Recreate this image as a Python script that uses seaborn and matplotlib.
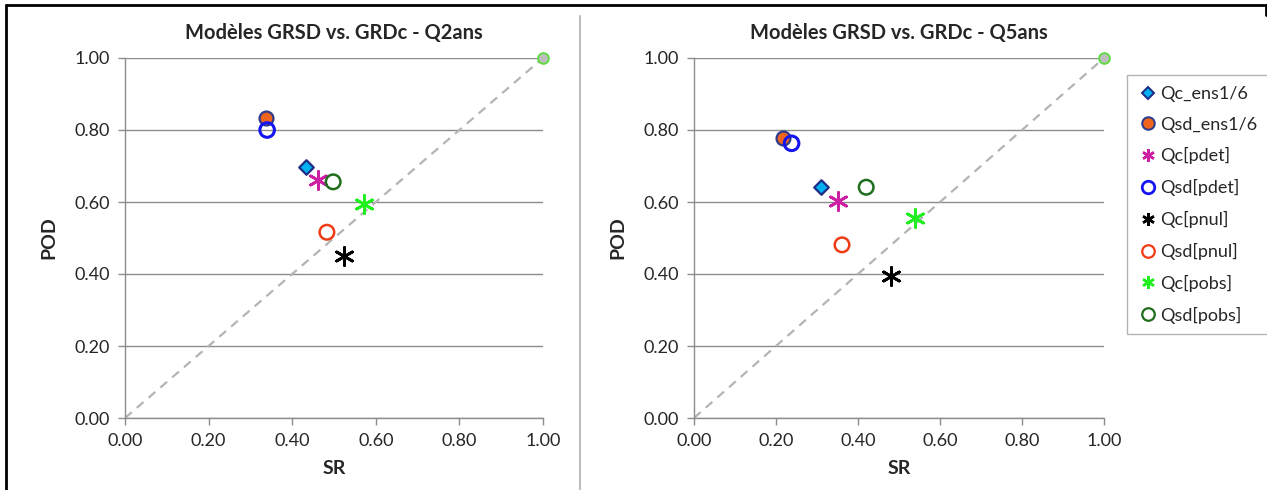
import numpy as np
import pandas as pd
import matplotlib
matplotlib.use('Agg')
import matplotlib.pyplot as plt
import seaborn as sns
from matplotlib.lines import Line2D

sns.set_theme(style='white')
plt.rcParams['font.family'] = ['Lato', 'DejaVu Sans']

# --- data ---
series = ['Qc_ens1/6', 'Qsd_ens1/6', 'Qc[pdet]', 'Qsd[pdet]',
          'Qc[pnul]', 'Qsd[pnul]', 'Qc[pobs]', 'Qsd[pobs]']
sr_q2 = [0.433, 0.337, 0.461, 0.340, 0.523, 0.483, 0.571, 0.498]
pod_q2 = [0.697, 0.832, 0.661, 0.800, 0.450, 0.516, 0.595, 0.656]
sr_q5 = [0.310, 0.218, 0.350, 0.238, 0.480, 0.361, 0.539, 0.420]
pod_q5 = [0.642, 0.777, 0.604, 0.763, 0.394, 0.481, 0.555, 0.641]
titles = ['Modèles GRSD vs. GRDc - Q2ans', 'Modèles GRSD vs. GRDc - Q5ans']
ticks = [0.0, 0.2, 0.4, 0.6, 0.8, 1.0]
diag = [0.0, 1.0]

asterisk = (6, 2, 0)
styles = {
    'Qc_ens1/6':  dict(marker='D', s=55, color='#00B0F0', edgecolor='#1F2D86', linewidth=1.6),
    'Qsd_ens1/6': dict(marker='o', s=100, color='#F0641E', edgecolor='#2E3C8C', linewidth=1.6),
    'Qc[pdet]':   dict(marker=asterisk, s=170, color='#CC1FA3', edgecolor='#CC1FA3', linewidth=2.0),
    'Qsd[pdet]':  dict(marker='o', s=110, color='none', edgecolor='#1414F0', linewidth=2.2),
    'Qc[pnul]':   dict(marker=asterisk, s=170, color='black', edgecolor='black', linewidth=2.0),
    'Qsd[pnul]':  dict(marker='o', s=110, color='none', edgecolor='#F03C14', linewidth=1.8),
    'Qc[pobs]':   dict(marker=asterisk, s=170, color='#20F020', edgecolor='#20F020', linewidth=2.0),
    'Qsd[pobs]':  dict(marker='o', s=110, color='none', edgecolor='#1E6E1E', linewidth=1.8),
}

fig = plt.figure(figsize=(12.67, 4.9), dpi=100)
ax1 = fig.add_axes([125 / 1267, 1 - 418 / 490, 418 / 1267, 360 / 490])
ax2 = fig.add_axes([694 / 1267, 1 - 418 / 490, 410 / 1267, 360 / 490])

for ax, sr, pod, title in [(ax1, sr_q2, pod_q2, titles[0]), (ax2, sr_q5, pod_q5, titles[1])]:
    # diagonal and perfect point
    sns.lineplot(x=diag, y=diag, ax=ax, color='#B4B4B4', linestyle=(0, (4, 3)),
                 linewidth=1.6, zorder=1)
    sns.scatterplot(x=[1.0], y=[1.0], ax=ax, color='#BEBEBE', edgecolor='#5ADC3C',
                    s=60, linewidth=1.3, zorder=4, clip_on=False)
    for i, name in enumerate(series):
        st = dict(styles[name])
        sns.scatterplot(x=[sr[i]], y=[pod[i]], ax=ax, zorder=3, clip_on=False, **st)
    ax.set_xlim(0, 1)
    ax.set_ylim(0, 1)
    ax.set_xticks(ticks)
    ax.set_yticks(ticks)
    ax.set_xticklabels([f'{t:.2f}' for t in ticks])
    ax.set_yticklabels([f'{t:.2f}' for t in ticks])
    ax.grid(axis='y', color='#8C8C8C', linewidth=1.0)
    ax.grid(axis='x', visible=False)
    ax.set_axisbelow(True)
    for sp in ['top', 'right']:
        ax.spines[sp].set_visible(False)
    for sp in ['left', 'bottom']:
        ax.spines[sp].set_color('#8C8C8C')
        ax.spines[sp].set_linewidth(1.0)
    ax.tick_params(axis='both', direction='out', length=5, width=1, color='#8C8C8C',
                   labelsize=13, labelcolor='#262626', bottom=True, left=True, pad=6)
    ax.set_xlabel('SR', fontsize=14, fontweight='bold', labelpad=8)
    ax.set_ylabel('POD', fontsize=14, fontweight='bold', labelpad=12)
    ax.set_title(title, fontsize=14.5, fontweight='bold', pad=14)

# legend on the right plot
handles = []
for name in series:
    st = styles[name]
    handles.append(Line2D([], [], linestyle='none', marker=st['marker'],
                          markersize=9 if st['marker'] != 'D' else 6,
                          markerfacecolor=st['color'], markeredgecolor=st['edgecolor'],
                          markeredgewidth=st['linewidth'] * 0.9, label=name))
leg = fig.legend(handles=handles, loc='upper left', bbox_to_anchor=(1127 / 1267, 1 - 75 / 490),
                 frameon=True, fancybox=False, fontsize=13, handletextpad=0.15,
                 labelspacing=0.82, borderpad=0.6, handlelength=1.1, borderaxespad=0)
leg.get_frame().set_edgecolor('#A0A0A0')
leg.get_frame().set_linewidth(1.0)

# outer frame and separator like the original sheet
fig.add_artist(Line2D([6 / 1267, 6 / 1267], [0, 1 - 5 / 490], color='black', linewidth=2))
fig.add_artist(Line2D([6 / 1267, 1], [1 - 5 / 490, 1 - 5 / 490], color='black', linewidth=2))
fig.add_artist(Line2D([1266 / 1267, 1266 / 1267], [1 - 5 / 490, 1 - 15 / 490], color='black', linewidth=2))
fig.add_artist(Line2D([580 / 1267, 580 / 1267], [0, 1 - 16 / 490], color='#BEBEBE', linewidth=1.5))

fig.savefig('out.png', dpi=100, facecolor='white')
